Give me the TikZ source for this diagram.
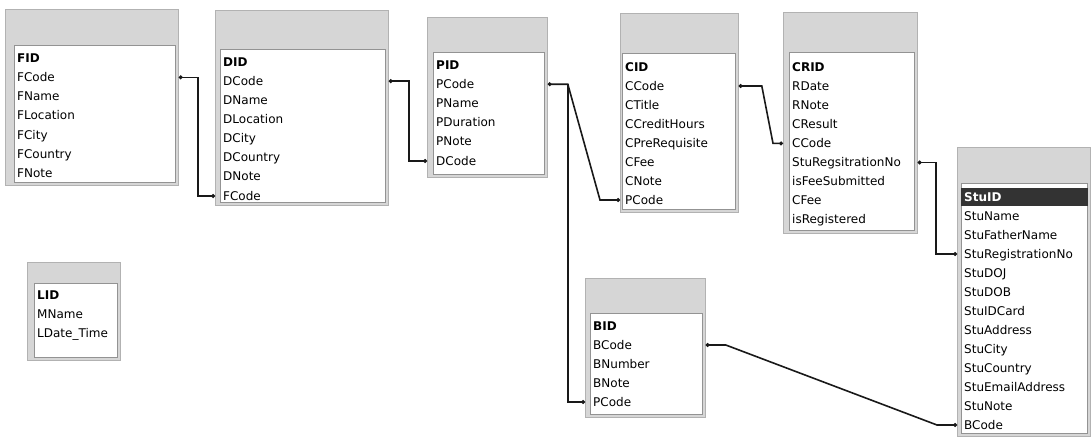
\documentclass[tikz,border=0pt]{standalone}
\usepackage{fontspec}
\setmainfont{DejaVu Sans}
\usetikzlibrary{calc,arrows.meta}
\tikzset{
  tframe/.style={draw=gray!60, fill=gray!32, line width=0.8pt, inner sep=0pt, anchor=north west},
  tbody/.style={draw=gray!85, fill=white, line width=0.6pt, inner sep=0pt, anchor=north west},
  fld/.style={anchor=base west, inner sep=0pt, text height=9pt, text depth=1pt, font=\fontsize{12}{14}\selectfont},
  pk/.style={fld, font=\fontsize{12}{14}\selectfont\bfseries},
  hlrow/.style={fill=black!80, inner sep=0pt, anchor=north west},
  rel/.style={line width=1.6pt, black!90, {Circle[length=3.8pt]}-{Circle[length=3.8pt]}},
}
% #1 name, #2 left, #3 top, #4 right, #5 bottom, #6 top of field area, #7 text x
\newcommand\mktable[7]{%
  \node[tframe, minimum width=#4-#2, minimum height=#5-#3] (#1) at (#2,#3) {};
  \node[tbody, minimum width=#4-#7, minimum height=#5-#6-3] (#1-body) at (#7-3,#6) {};
}
\begin{document}
\begin{tikzpicture}[x=1pt,y=-1pt]
\useasboundingbox (0,0) rectangle (1091,442);
\fill[white] (0,0) rectangle (1091,442);

% F table
\mktable{F}{5}{9}{178}{185}{45}{17}
\node[pk] (F-FID) at (17,62) {FID};
\foreach[count=\i] \f in {FCode,FName,FLocation,FCity,FCountry,FNote}
  \node[fld] (F-\f) at (17,62+19.3*\i) {\f};

% D table
\mktable{D}{215}{10}{388}{205}{49}{223}
\node[pk] (D-DID) at (223,66) {DID};
\foreach[count=\i] \f in {DCode,DName,DLocation,DCity,DCountry,DNote,FCode}
  \node[fld] (D-\f) at (223,66+19.15*\i) {\f};

% P table
\mktable{P}{427}{17}{547}{177}{52}{436}
\node[pk] (P-PID) at (436,69) {PID};
\foreach[count=\i] \f in {PCode,PName,PDuration,PNote,DCode}
  \node[fld] (P-\f) at (436,69+19.2*\i) {\f};

% C table
\mktable{C}{620}{13}{738}{212}{53}{625}
\node[pk] (C-CID) at (625,71) {CID};
\foreach[count=\i] \f in {CCode,CTitle,CCreditHours,CPreRequisite,CFee,CNote,PCode}
  \node[fld] (C-\f) at (625,71+19*\i) {\f};

% CR table
\mktable{CR}{783}{12}{917}{233}{52}{792}
\node[pk] (CR-CRID) at (792,71) {CRID};
\foreach[count=\i] \f in {RDate,RNote,CResult,CCode,StuRegsitrationNo,isFeeSubmitted,CFee,isRegistered}
  \node[fld] (CR-\f) at (792,71+19.1*\i) {\f};

% Stu table
\mktable{Stu}{957}{147}{1090}{436}{183}{964}
\node[hlrow, minimum width=127, minimum height=18] (Stu-hl) at (961,188) {};
\node[pk, text=white] (Stu-StuID) at (964,201) {StuID};
\foreach[count=\i] \f in {StuName,StuFatherName,StuRegistrationNo,StuDOJ,StuDOB,StuIDCard,StuAddress,StuCity,StuCountry,StuEmailAddress,StuNote,BCode}
  \node[fld] (Stu-\f) at (964,201+19*\i) {\f};

% B table
\mktable{B}{585}{278}{705}{417}{313}{593}
\node[pk] (B-BID) at (593,330) {BID};
\foreach[count=\i] \f in {BCode,BNumber,BNote,PCode}
  \node[fld] (B-\f) at (593,330+19*\i) {\f};

% L table
\mktable{L}{27}{262}{120}{360}{283}{37}
\node[pk] (L-LID) at (37,299) {LID};
\node[fld] (L-MName) at (37,318) {MName};
\node[fld] (L-LDate) at (37,337) {LDate\_Time};

% relationships
\draw[rel] (F.east |- F-FCode) -- ++(19,0) |- (D.west |- D-FCode);
\draw[rel] (D.east |- D-DCode) -- ++(20,0) |- (P.west |- P-DCode);
\coordinate (pj) at ($(P.east |- P-PCode)+(20,0)$);
\draw[rel] (P.east |- P-PCode) -- (pj) -- ($(C.west |- C-PCode)+(-20,0)$) -- (C.west |- C-PCode);
\draw[rel, {Circle[length=0pt]}-{Circle[length=3.8pt]}] (pj) |- (B.west |- B-PCode);
\draw[rel] (C.east |- C-CCode) -- ++(23,0) -- ($(CR.west |- CR-CCode)+(-10,0)$) -- (CR.west |- CR-CCode);
\draw[rel] (CR.east |- CR-StuRegsitrationNo) -- ++(18,0) |- (Stu.west |- Stu-StuRegistrationNo);
\draw[rel] (B.east |- B-BCode) -- ++(20,0) -- ($(Stu.west |- Stu-BCode)+(-20,0)$) -- (Stu.west |- Stu-BCode);
\end{tikzpicture}
\end{document}
